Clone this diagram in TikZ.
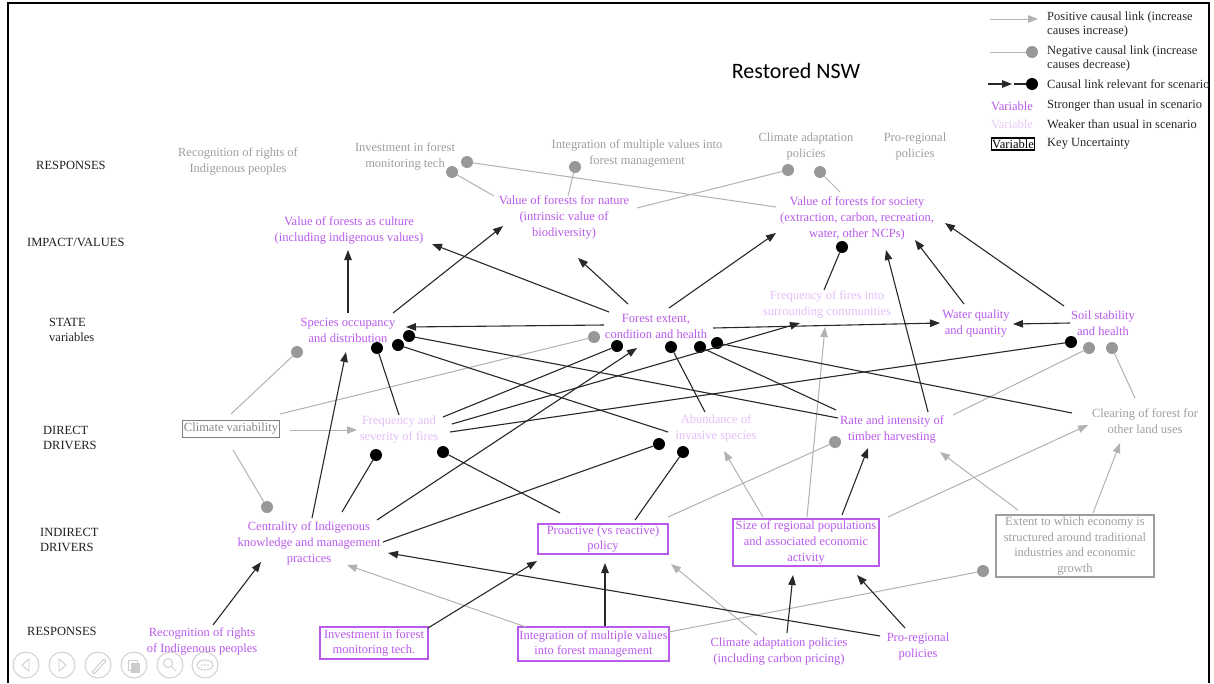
\documentclass[tikz,border=0pt]{standalone}
\usepackage{fontspec}
\setmainfont{Liberation Serif}
\newfontfamily\titlefont{Carlito}
\usetikzlibrary{arrows.meta}

\definecolor{strongc}{RGB}{185,90,235}
\definecolor{weakc}{RGB}{228,190,248}
\definecolor{greytext}{RGB}{158,158,158}
\definecolor{greyline}{RGB}{178,178,178}
\definecolor{greydot}{RGB}{152,152,152}
\definecolor{darkline}{RGB}{40,40,40}
\definecolor{ctrl}{RGB}{205,205,205}

\begin{document}
\begin{tikzpicture}[x=1pt,y=-1pt,
  lbl/.style={font=\fontsize{12.5}{16}\selectfont, align=center, inner sep=0pt},
  strongvar/.style={lbl, text=strongc},
  weakvar/.style={lbl, text=weakc},
  greyvar/.style={lbl, text=greytext},
  rowlabel/.style={font=\fontsize{12.5}{15}\selectfont, align=left, anchor=west, inner sep=0pt, text=black!88},
  legtext/.style={font=\fontsize{12.5}{14.5}\selectfont, align=left, anchor=west, inner sep=0pt, text=black!85},
  keybox/.style={draw=#1, line width=1.4pt, inner sep=0pt},
  bdot/.style={circle, fill=black, inner sep=0pt, minimum size=12pt},
  gdot/.style={circle, fill=greydot, inner sep=0pt, minimum size=12pt},
  rplink/.style={draw=darkline, line width=1.1pt, -{Triangle[length=10pt,width=7.5pt]}},
  rnlink/.style={draw=darkline, line width=1.1pt},
  plink/.style={draw=greyline, line width=1pt, -{Triangle[length=10pt,width=7.5pt]}},
  nlink/.style={draw=greyline, line width=1pt},
]
\useasboundingbox (0,0) rectangle (1214,683);
\fill[white] (0,0) rectangle (1214,683);

% slide frame
\draw[line width=1.8pt] (8,683) -- (8,3) -- (1209,3) -- (1209,683);

% title
\node[inner sep=0pt, font=\titlefont\fontsize{22}{26}\selectfont] (title) at (796,71) {Restored NSW};

% row labels
\node[rowlabel] (rowA) at (36,165) {RESPONSES};
\node[rowlabel] (rowB) at (27,242) {IMPACT/VALUES};
\node[rowlabel] (rowC) at (49,330) {STATE\\variables};
\node[rowlabel] (rowD) at (43,438) {DIRECT\\DRIVERS};
\node[rowlabel] (rowE) at (40,540) {INDIRECT\\DRIVERS};
\node[rowlabel] (rowF) at (27,631) {RESPONSES};

% responses (top)
\node[greyvar] (rRec) at (238,161) {Recognition of rights of\\Indigenous peoples};
\node[greyvar] (rInv) at (405,156) {Investment in forest\\monitoring tech};
\node[greyvar] (rInt) at (637,153) {Integration of multiple values into\\forest management};
\node[greyvar] (rCli) at (806,146) {Climate adaptation\\policies};
\node[greyvar] (rPro) at (915,146) {Pro-regional\\policies};

% impact / values
\node[strongvar] (vCul) at (349,230) {Value of forests as culture\\(including indigenous values)};
\node[strongvar] (vNat) at (564,217) {Value of forests for nature\\(intrinsic value of\\biodiversity)};
\node[strongvar] (vSoc) at (857,218) {Value of forests for society\\(extraction, carbon, recreation,\\water, other NCPs)};

% state variables
\node[strongvar] (sSpe) at (348,330) {Species occupancy\\and distribution};
\node[strongvar] (sFor) at (656,326) {Forest extent,\\condition and health};
\node[weakvar] (sFir) at (827,304) {Frequency of fires into\\surrounding communities};
\node[strongvar] (sWat) at (976,324) {Water quality\\and quantity};
\node[strongvar] (sSoi) at (1103,323) {Soil stability\\and health};

% direct drivers
\node[keybox=greytext!80!black, line width=1pt, text=greytext!85!black, font=\fontsize{12.5}{16}\selectfont, minimum width=97pt, minimum height=17pt] (dCli) at (231,429) {Climate variability};
\node[weakvar] (dFir) at (399,430) {Frequency and\\severity of fires};
\node[weakvar] (dInv) at (716,428) {Abundance of\\invasive species};
\node[strongvar] (dTim) at (892,429) {Rate and intensity of\\timber harvesting};
\node[greyvar] (dCle) at (1145,421) {Clearing of forest for\\other land uses};

% indirect drivers
\node[strongvar] (iInd) at (309,543) {Centrality of Indigenous\\knowledge and management\\practices};
\node[strongvar, keybox=strongc, minimum width=130pt, minimum height=30pt, font=\fontsize{12.5}{15}\selectfont] (iPro) at (603,539) {Proactive (vs reactive)\\policy};
\node[strongvar, keybox=strongc, minimum width=146pt, minimum height=47pt] (iSiz) at (806,542.5) {Size of regional populations\\and associated economic\\activity};
\node[greyvar, keybox=greytext, line width=1.2pt, minimum width=158pt, minimum height=62pt, font=\fontsize{12.5}{15.6}\selectfont] (iExt) at (1075,546) {Extent to which economy is\\structured around traditional\\industries and economic\\growth};

% responses (bottom)
\node[strongvar] (bRec) at (202,641) {Recognition of rights\\of Indigenous peoples};
\node[strongvar, keybox=strongc, minimum width=108pt, minimum height=32pt, font=\fontsize{12.5}{15}\selectfont] (bInv) at (374,643) {Investment in forest\\monitoring tech.};
\node[strongvar, keybox=strongc, minimum width=151pt, minimum height=34pt, font=\fontsize{12.5}{15}\selectfont] (bInt) at (593.5,644) {Integration of multiple values\\into forest management};
\node[strongvar] (bCli) at (779,651) {Climate adaptation policies\\(including carbon pricing)};
\node[strongvar] (bPro) at (918,646) {Pro-regional\\policies};

% connector end points
\foreach \n/\x/\y in {
  s1/494/196, s2/776/207, s3/568/196, s4/637/208, s5/840/192,
  s6/348/313, e6/348/250, s7/393/313, e7/503/226, s8/609/312, e8/432/244,
  s9/628/304, e9/578/258, s10/669/308, e10/776/233, s11/824/290,
  s12/928/412, e12/886/250, s13/964/304, e13/915/240, s14/1064/306, e14/945/223,
  s15/604/325, e15/406/327, s16/713/328, e16/940/323, s17/1070/323, e17/1013/324,
  s18/231/414, s19/280/414, s20/290/430, e20/357/430, s21/233/450,
  s22/399/415, s23/443/417, s24/452/424, e24/800/323, s25/450/432,
  s26/668/432, s27/705/412, s28/838/418, s29/836/410, s30/1072/413,
  s31/953/415, s32/1135/398,
  s33/312/518, e33/346/352, s34/342/512, s35/377/520, e35/637/348,
  s36/383/542, s37/560/513, s38/635/520, s39/668/517,
  s40/763/517, e40/724/451, s41/807/517, e41/825/327, s42/842/515, e42/868/448,
  s43/888/517, e43/1088/425, s44/1018/510, e44/940/452, s45/1093/513, e45/1120/443,
  s46/213/625, e46/261/562, s47/428/628, e47/537/561, s48/605/626, e48/605/563,
  s49/526/627, e49/347/565, s50/880/636, e50/388/553, s51/905/628, e51/857/575,
  s52/787/633, e52/793/575, s53/757/635, e53/671/564, s54/669/632}
  \coordinate (\n) at (\x,\y);

% negative-link dots
\foreach \n/\x/\y in {d1/452/172, d2/467/162, d3/575/167, d4/788/170, d5/820/172,
  d18/297/352, d19/594/337, d21/267/507, d31/1089/348, d32/1112/348,
  d39/835/442, d54/983/571}
  \node[gdot] (\n) at (\x,\y) {};
\foreach \n/\x/\y in {d11/842/247, d22/377/348, d23/617/346, d25/1071/342,
  d26/398/345, d27/671/347, d28/409/336, d29/700/347, d30/717/343,
  d34/376/455, d36/659/444, d37/443/452, d38/683/452}
  \node[bdot] (\n) at (\x,\y) {};

% grey negative links
\foreach \i in {1,2,3,4,5,18,19,21,31,32,39,54}
  \draw[nlink] (s\i) -- (d\i);
% grey positive links
\foreach \i in {20,40,41,43,44,45,49,53}
  \draw[plink] (s\i) -- (e\i);
% scenario negative links
\foreach \i in {11,22,23,25,26,27,28,29,30,34,36,37,38}
  \draw[rnlink] (s\i) -- (d\i);
% scenario positive links
\foreach \i in {6,7,8,9,10,12,13,14,15,16,17,24,33,35,42,46,47,48,50,51,52}
  \draw[rplink] (s\i) -- (e\i);

% legend
\coordinate (lgA1) at (990,19); \coordinate (lgA2) at (1038,19);
\draw[plink] (lgA1) -- (lgA2);
\node[legtext] (lgAt) at (1047,24.5) {Positive causal link (increase\\causes increase)};
\node[gdot] (lgBd) at (1032,52) {}; \coordinate (lgB1) at (990,52);
\draw[nlink] (lgB1) -- (lgBd);
\node[legtext] (lgBt) at (1047,58.5) {Negative causal link (increase\\causes decrease)};
\coordinate (lgC1) at (988,84); \coordinate (lgC2) at (1012,84);
\draw[rplink] (lgC1) -- (lgC2);
\node[bdot] (lgCd) at (1032,84) {}; \coordinate (lgC3) at (1014,84);
\draw[rnlink] (lgC3) -- (lgCd);
\node[legtext] (lgCt) at (1047,84) {Causal link relevant for scenario};
\node[strongvar] (lgDv) at (1012,106) {Variable};
\node[legtext] (lgDt) at (1047,106) {Stronger than usual in scenario};
\node[lbl, text=weakc!85!white] (lgEv) at (1012,124) {Variable};
\node[legtext] (lgEt) at (1047,124) {Weaker than usual in scenario};
\node[lbl, draw=black, line width=1.2pt, inner xsep=0.5pt, inner ysep=1.5pt] (lgFv) at (1013,144) {Variable};
\node[legtext] (lgFt) at (1047,144) {Key Uncertainty};

% slide-show controls
\begin{scope}[draw=ctrl, line width=0.9pt]
  \foreach \cx in {26,62,98,134,170,205}
    \draw (\cx,665) circle (13);
  \draw (29,659) -- (22,665) -- (29,671) -- cycle;
  \draw (59,659) -- (66,665) -- (59,671) -- cycle;
  \draw (92,672) -- (104,659) -- (106,661) -- (94,674) -- cycle;
  \draw (128,660) rectangle (137,670);
  \fill[ctrl] (131,663) rectangle (140,673);
  \draw (168,663) circle (4.5);
  \draw (171.5,666.5) -- (176,671);
  \draw (205,665) ellipse (8 and 5);
  \foreach \dx in {-3,0,3} \fill[ctrl] (205+\dx,665) circle (0.9);
\end{scope}
\end{tikzpicture}
\end{document}
